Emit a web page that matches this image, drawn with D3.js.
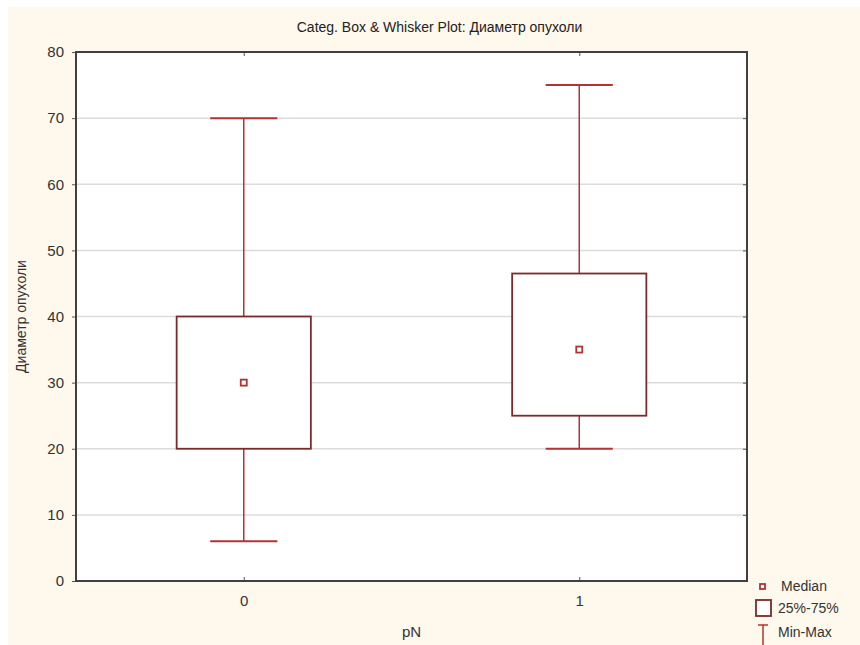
<!DOCTYPE html>
<html>
<head>
<meta charset="utf-8">
<script src="https://cdn.jsdelivr.net/npm/d3@7"></script>
<style>
  body { margin: 0; background: #fff; }
  text { font-family: "Liberation Sans", Arial, sans-serif; }
</style>
</head>
<body>
<div id="chart"></div>
<script>
// Data
const categories = ["0", "1"];
const minVals = [6, 20];
const q1Vals = [20, 25];
const medianVals = [30, 35];
const q3Vals = [40, 46.5];
const maxVals = [70, 75];
const yTicks = [0, 10, 20, 30, 40, 50, 60, 70, 80];

const width = 860, height = 645;
const margin = { top: 52, bottom: 64, left: 76, right: 113 };

const svg = d3.select('#chart')
  .append('svg')
  .attr('width', width)
  .attr('height', height);

// cream background
svg.append('rect')
  .attr('x', 8).attr('y', 7)
  .attr('width', width - 8).attr('height', height - 7)
  .attr('fill', '#fff8ec');

const plotW = width - margin.left - margin.right;
const plotH = height - margin.top - margin.bottom;

svg.append('rect')
  .attr('x', margin.left).attr('y', margin.top)
  .attr('width', plotW).attr('height', plotH)
  .attr('fill', '#ffffff');

const x = d3.scalePoint()
  .domain(categories)
  .range([margin.left, width - margin.right])
  .padding(0.5);

const y = d3.scaleLinear()
  .domain([0, 80])
  .range([height - margin.bottom, margin.top]);

// gridlines
svg.append('g')
  .selectAll('line')
  .data(yTicks.slice(1, -1))
  .enter()
  .append('line')
  .attr('x1', margin.left).attr('x2', width - margin.right)
  .attr('y1', d => y(d)).attr('y2', d => y(d))
  .attr('stroke', '#dcdcdc')
  .attr('stroke-width', 1.5);

// axes
const yAxis = svg.append('g')
  .attr('transform', `translate(${margin.left},0)`)
  .call(d3.axisLeft(y).tickValues(yTicks).tickSize(4).tickPadding(8));

const xAxis = svg.append('g')
  .attr('transform', `translate(0,${height - margin.bottom})`)
  .call(d3.axisBottom(x).tickSize(-4).tickPadding(14));

const topAxis = svg.append('g')
  .attr('transform', `translate(0,${margin.top})`)
  .call(d3.axisTop(x).tickSize(-4).tickFormat(''));

const rightAxis = svg.append('g')
  .attr('transform', `translate(${width - margin.right},0)`)
  .call(d3.axisRight(y).tickValues(yTicks).tickSize(-4).tickFormat(''));

[xAxis, yAxis, topAxis, rightAxis].forEach(g => {
  g.select('.domain').remove();
  g.selectAll('.tick line').attr('stroke', '#555');
  g.selectAll('text')
    .attr('fill', '#333')
    .style('font-size', '15px');
});

// frame
svg.append('rect')
  .attr('x', margin.left).attr('y', margin.top)
  .attr('width', plotW).attr('height', plotH)
  .attr('fill', 'none')
  .attr('stroke', '#404040')
  .attr('stroke-width', 2);

// boxes
const boxW = x.step() * 0.4;
const capW = x.step() * 0.2;
const whiskerColor = '#b03434';
const boxColor = '#7a2a2a';

categories.forEach((c, i) => {
  const cx = x(c);

  svg.append('line')
    .attr('x1', cx).attr('x2', cx)
    .attr('y1', y(maxVals[i])).attr('y2', y(q3Vals[i]))
    .attr('stroke', whiskerColor).attr('stroke-width', 1.5);
  svg.append('line')
    .attr('x1', cx).attr('x2', cx)
    .attr('y1', y(q1Vals[i])).attr('y2', y(minVals[i]))
    .attr('stroke', whiskerColor).attr('stroke-width', 1.5);

  [minVals[i], maxVals[i]].forEach(v => {
    svg.append('line')
      .attr('x1', cx - capW / 2).attr('x2', cx + capW / 2)
      .attr('y1', y(v)).attr('y2', y(v))
      .attr('stroke', whiskerColor).attr('stroke-width', 2);
  });

  svg.append('rect')
    .attr('x', cx - boxW / 2)
    .attr('y', y(q3Vals[i]))
    .attr('width', boxW)
    .attr('height', y(q1Vals[i]) - y(q3Vals[i]))
    .attr('fill', '#fff')
    .attr('stroke', boxColor)
    .attr('stroke-width', 1.8);

  svg.append('rect')
    .attr('x', cx - 3).attr('y', y(medianVals[i]) - 3)
    .attr('width', 6).attr('height', 6)
    .attr('fill', '#fff')
    .attr('stroke', whiskerColor)
    .attr('stroke-width', 1.8);
});

// title
svg.append('text')
  .attr('x', (margin.left + width - margin.right) / 2 + 28)
  .attr('y', 32)
  .attr('text-anchor', 'middle')
  .style('font-size', '14px')
  .attr('fill', '#222')
  .text('Categ. Box & Whisker Plot: Диаметр опухоли');

// axis labels
svg.append('text')
  .attr('x', (margin.left + width - margin.right) / 2)
  .attr('y', 637)
  .attr('text-anchor', 'middle')
  .style('font-size', '15px')
  .attr('fill', '#333')
  .text('pN');

svg.append('text')
  .attr('transform', `translate(26,${(margin.top + height - margin.bottom) / 2}) rotate(-90)`)
  .attr('text-anchor', 'middle')
  .style('font-size', '14px')
  .attr('fill', '#333')
  .text('Диаметр опухоли');

// legend
const legend = svg.append('g').attr('transform', 'translate(763,0)');
legend.append('rect')
  .attr('x', -3).attr('y', 584).attr('width', 5).attr('height', 5)
  .attr('fill', '#fff').attr('stroke', whiskerColor).attr('stroke-width', 1.8);
legend.append('text').attr('x', 18).attr('y', 591).text('Median');

legend.append('rect')
  .attr('x', -7).attr('y', 600).attr('width', 15).attr('height', 16)
  .attr('fill', '#fff').attr('stroke', boxColor).attr('stroke-width', 1.8);
legend.append('text').attr('x', 15).attr('y', 613).text('25%-75%');

legend.append('line').attr('x1', -5).attr('x2', 5).attr('y1', 625).attr('y2', 625)
  .attr('stroke', whiskerColor).attr('stroke-width', 1.5);
legend.append('line').attr('x1', 0).attr('x2', 0).attr('y1', 625).attr('y2', 645)
  .attr('stroke', whiskerColor).attr('stroke-width', 1.5);
legend.append('text').attr('x', 15).attr('y', 637).text('Min-Max');

legend.selectAll('text').style('font-size', '14px').attr('fill', '#333');
</script>
</body>
</html>
